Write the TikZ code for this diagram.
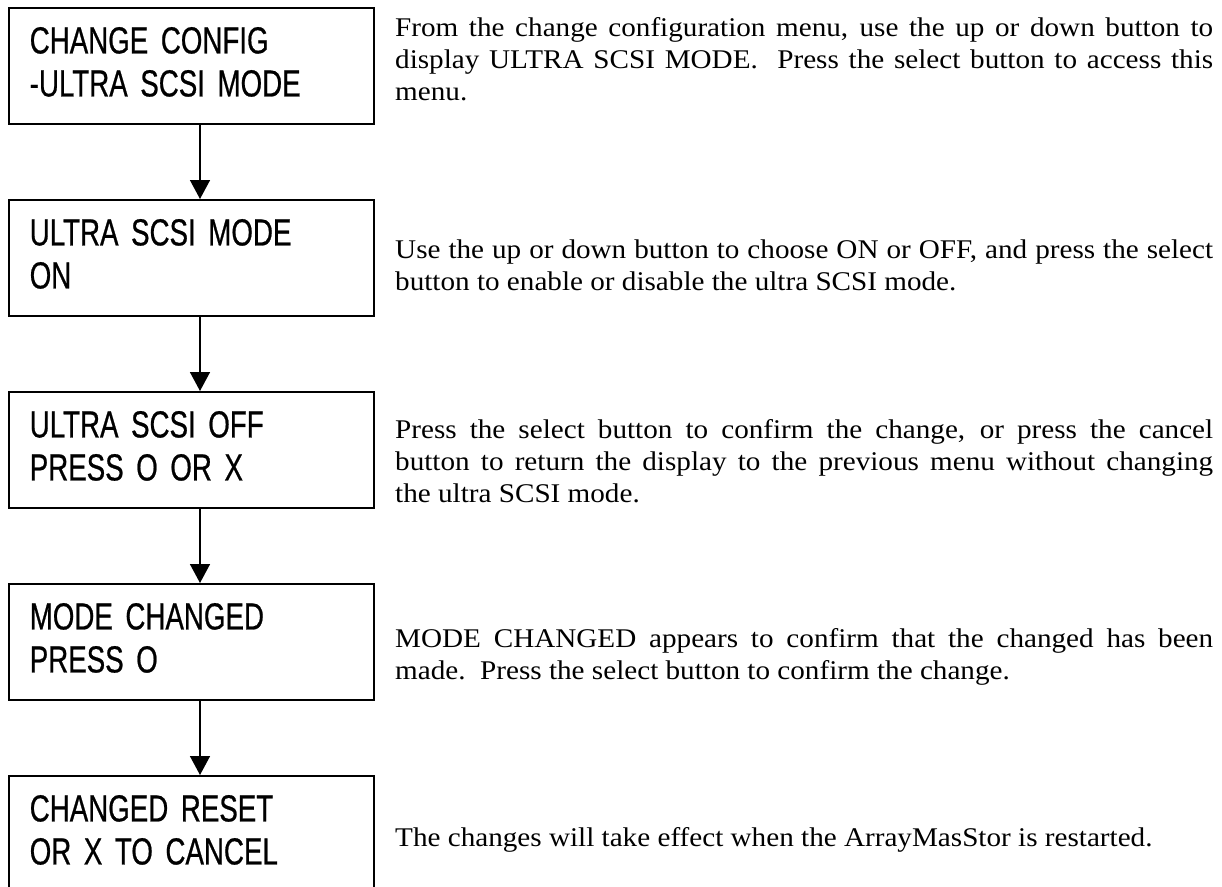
\documentclass[tikz,border=0pt]{standalone}
\usepackage{fontspec}
\usetikzlibrary{arrows.meta}
\newfontfamily\lcdfont[FakeStretch=0.735,FakeBold=0.6]{Liberation Sans}
\newfontfamily\descfont[FakeStretch=1.08]{Liberation Serif}
\tikzset{
  screen/.style={draw, line width=1.5pt, rectangle, anchor=north west,
    minimum width=365pt, minimum height=116pt, text width=323pt,
    inner xsep=21pt, inner ysep=0pt, align=left,
    font=\lcdfont\fontsize{37.7}{43}\selectfont},
  desc/.style={anchor=base west, inner sep=0pt, text width=818pt, align=justify,
    font=\descfont\fontsize{27}{32}\selectfont},
  flow/.style={line width=1.5pt, -{Triangle[width=20pt,length=19pt]}}
}
\newcommand{\lastdepth}{\rule[-8pt]{0pt}{8pt}}
\begin{document}
\hyphenpenalty=10000
\tolerance=10000
\begin{tikzpicture}[x=1pt,y=-1pt]
\useasboundingbox (0,0) rectangle (1222,886);
\clip (0,0) rectangle (1222,886);
\coordinate (ax) at (200,0);
\node[screen] (b1) at (8,7) {CHANGE CONFIG\\-ULTRA SCSI MODE\lastdepth};
\node[screen] (b2) at (8,199) {ULTRA SCSI MODE\\ON\lastdepth};
\node[screen] (b3) at (8,391) {ULTRA SCSI OFF\\PRESS O OR X\lastdepth};
\node[screen] (b4) at (8,583) {MODE CHANGED\\PRESS O\lastdepth};
\node[screen] (b5) at (8,775) {CHANGED RESET\\OR X TO CANCEL\lastdepth};
\draw[flow] (b1.south -| ax) -- (b2.north -| ax);
\draw[flow] (b2.south -| ax) -- (b3.north -| ax);
\draw[flow] (b3.south -| ax) -- (b4.north -| ax);
\draw[flow] (b4.south -| ax) -- (b5.north -| ax);
\node[desc] (d1) at (395,36) {From the change configuration menu, use the up or down button to\linebreak display ULTRA SCSI MODE.\ \ Press the select button to access this\linebreak menu.};
\node[desc] (d2) at (395,258) {Use the up or down button to choose ON or OFF, and press the select\linebreak button to enable or disable the ultra SCSI mode.};
\node[desc] (d3) at (395,438) {Press the select button to confirm the change, or press the cancel\linebreak button to return the display to the previous menu without changing\linebreak the ultra SCSI mode.};
\node[desc] (d4) at (395,647) {MODE CHANGED appears to confirm that the changed has been\linebreak made.\ \ Press the select button to confirm the change.};
\node[desc] (d5) at (395,846) {The changes will take effect when the ArrayMasStor is restarted.};
\end{tikzpicture}
\end{document}
